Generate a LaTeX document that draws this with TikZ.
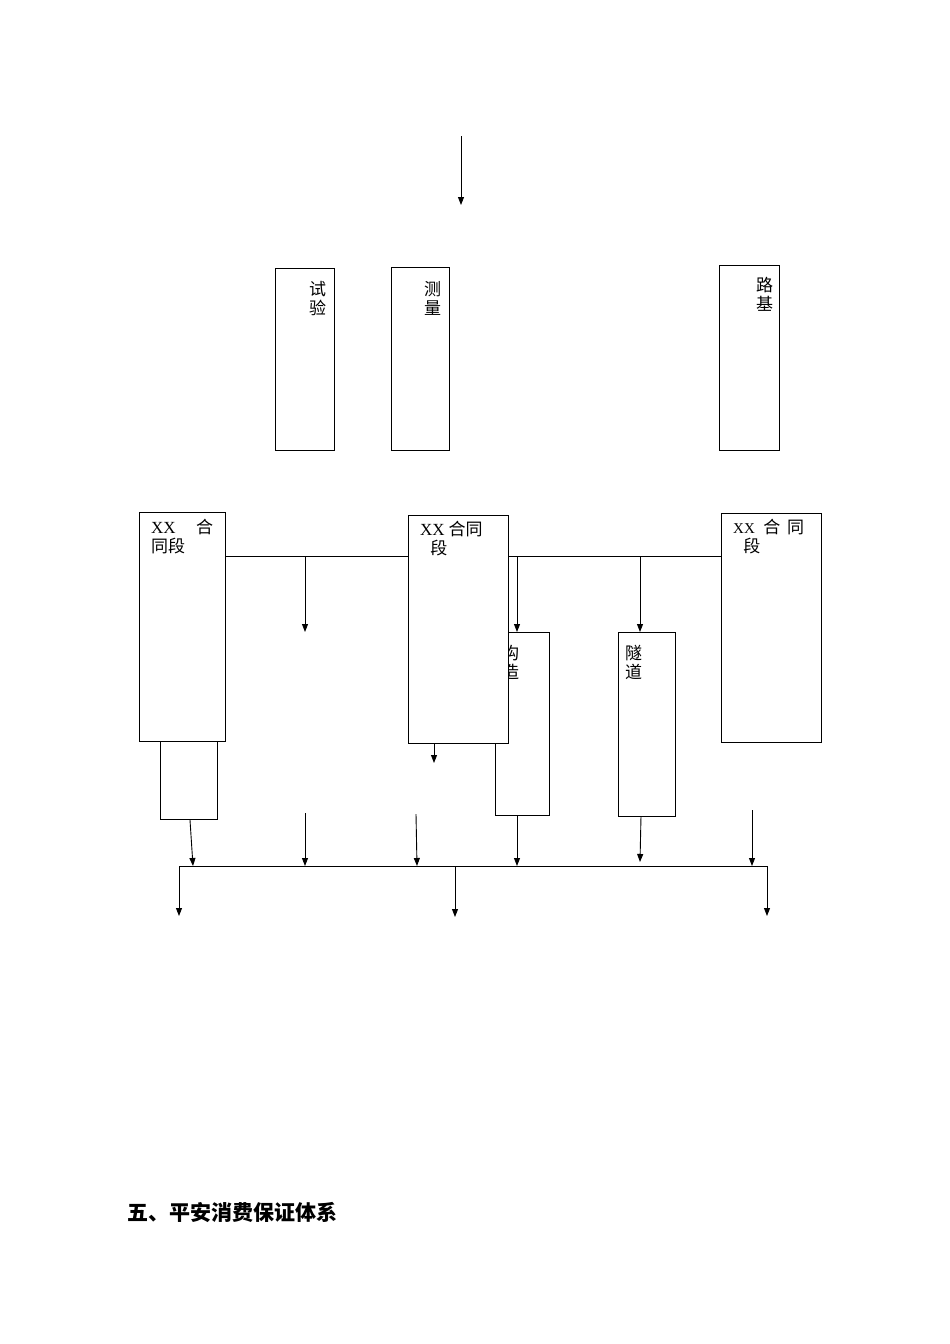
\documentclass[tikz,border=0pt]{standalone}
\usepackage{fontspec}
\setmainfont{Liberation Serif}
\newfontfamily\cjk{Noto Sans CJK SC}
\usetikzlibrary{arrows.meta}
\begin{document}
\begin{tikzpicture}[x=1pt,y=-1pt,
  bx/.style={draw,line width=0.9pt,fill=white},
  lbl/.style={font=\fontsize{17}{19}\selectfont\cjk,align=left,inner sep=0pt,anchor=north west},
  ar/.style={-{Triangle[length=8pt,width=6pt]},line width=0.9pt},
  ln/.style={line width=0.9pt}]
\useasboundingbox (0,0) rectangle (950,1344);
% top arrow
\coordinate (t0) at (461,136); \coordinate (t1) at (461,205);
\draw[ar] (t0) -- (t1);
% upper boxes
\draw[bx] (275,268) rectangle (334,450); \node[lbl] (sy) at (309,281) {试\\验};
\draw[bx] (391,267) rectangle (449,450); \node[lbl] (cl) at (424,281) {测\\量};
\draw[bx] (719,265) rectangle (779,450); \node[lbl] (lj) at (756,277) {路\\基};
% horizontal line
\coordinate (h0) at (225,556); \coordinate (h1) at (721,556);
\draw[ln] (h0) -- (h1);
% lower boxes behind
\draw[bx] (495,632) rectangle (549,815); \node[lbl] (gz) at (502,645) {构\\造};
\draw[bx] (618,632) rectangle (675,816); \node[lbl] (sd) at (625,645) {隧\\道};
\draw[bx] (160,741) rectangle (217,819);
% arrows from line
\coordinate (a1) at (305,556); \coordinate (a1e) at (305,632);
\coordinate (a2) at (517,556); \coordinate (a2e) at (517,632);
\coordinate (a3) at (640,556); \coordinate (a3e) at (640,632);
\draw[ar] (a1) -- (a1e); \draw[ar] (a2) -- (a2e); \draw[ar] (a3) -- (a3e);
% main boxes
\draw[bx] (139,512) rectangle (225,741);
\node[lbl] (A) at (151,519) {{\fontspec{Liberation Serif}XX}\hspace{1.2em}合\\同段};
\draw[bx] (408,515) rectangle (508,743);
\node[lbl] (B) at (420,521) {{\fontspec{Liberation Serif}XX} 合同\\\hspace{0.6em}段};
\draw[bx] (721,513) rectangle (821,742);
\node[lbl] (C) at (733,519) {{\fontspec{Liberation Serif}\fontsize{15}{19}\selectfont XX}\hspace{0.5em}合\hspace{0.4em}同\\\hspace{0.6em}段};
\coordinate (b0) at (434,743); \coordinate (b1) at (434,763);
\draw[ar] (b0) -- (b1);
% bottom arrows
\foreach \x/\ya/\xb/\yb in {190/820/193/866,305/813/305/866,416/814/417/866,517/815/517/866,641/816/640/862,752/810/752/866}
  \draw[ar] (\x,\ya) -- (\xb,\yb);
\coordinate (g0) at (179,866); \coordinate (g1) at (767,866);
\draw[ln] (g0) -- (g1);
\draw[ar] (179,866) -- (179,916);
\draw[ar] (455,866) -- (455,917);
\draw[ar] (767,866) -- (767,916);
% title
\node[anchor=west,inner sep=0pt,font=\fontsize{21}{24}\selectfont\cjk\bfseries] (title) at (127,1212) {五、平安消费保证体系};
\end{tikzpicture}
\end{document}
